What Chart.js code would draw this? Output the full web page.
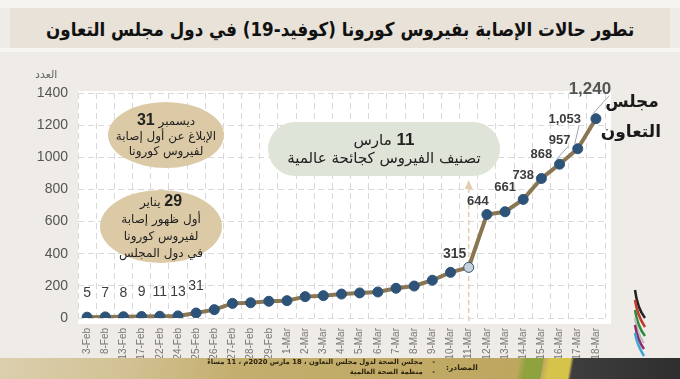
<!DOCTYPE html>
<html lang="ar">
<head>
<meta charset="utf-8">
<script src="https://cdn.jsdelivr.net/npm/chart.js@4.4.1/dist/chart.umd.min.js"></script>
<style>
  html,body{margin:0;padding:0;}
  body{width:680px;height:379px;overflow:hidden;background:#efebe6;position:relative;font-family:"DejaVu Sans",sans-serif;}
  #topstrip{position:absolute;left:0;top:0;width:680px;height:8px;background:#f6f4f1;}
  #titlebar{position:absolute;left:10px;top:8px;width:660px;height:40px;background:#e8e2d9;}
  #gap{position:absolute;left:0;top:48px;width:680px;height:4px;background:#f7f5f2;}
  #title{position:absolute;left:340px;top:18px;white-space:nowrap;font-weight:bold;font-size:19px;line-height:22px;color:#111;direction:rtl;transform-origin:50% 50%;}
  #wrap{position:absolute;left:0;top:0;width:680px;height:379px;}
  .ell{position:absolute;border-radius:50%;background:#dccaa6;display:flex;flex-direction:column;align-items:center;justify-content:center;direction:rtl;color:#222;text-align:center;}
  .ell b{font-family:"Liberation Sans",sans-serif;font-size:16px;}
  #e1{left:108px;top:102px;width:116px;height:66px;font-size:12px;line-height:15px;}
  #e2{left:100px;top:190px;width:122px;height:73px;font-size:12px;line-height:17px;}
  #gbox{position:absolute;left:268px;top:122px;width:232px;height:54px;border-radius:27px;background:#dfe4d8;direction:rtl;text-align:center;color:#222;font-size:15px;line-height:18px;display:flex;flex-direction:column;align-items:center;justify-content:center;}
  #gbox b{font-family:"Liberation Sans",sans-serif;font-size:17px;}
  #gcc{position:absolute;left:603px;top:86px;width:58px;text-align:center;direction:rtl;font-weight:bold;font-size:17px;line-height:30px;color:#1a1a1a;}
  #ytitle{position:absolute;left:35px;top:68px;font-size:11px;color:#666;direction:rtl;}
  #band{position:absolute;left:0;top:358px;width:680px;height:21px;
    background:linear-gradient(100deg,#dccfae 0%,#d2c295 18%,#c4ae6e 35%,#bfa862 70%,#bda65e 76%,#8ea33e 77%,#8ea33e 79.5%,#bfa862 79.6%,#d6c349 80.5%,#d6c349 83.5%,#3e3e3e 84%,#2e2e2e 100%);}
  #src{position:absolute;left:150px;top:358px;width:285px;direction:rtl;font-size:6.8px;line-height:9.5px;font-weight:bold;color:#2b2410;text-align:right;white-space:nowrap;}
  #srch{position:absolute;left:446px;top:363px;direction:rtl;font-size:7.5px;font-weight:bold;color:#2b2410;}
  #logo{position:absolute;left:625px;top:287px;}
</style>
</head>
<body>
<div id="topstrip"></div>
<div id="titlebar"></div>
<div id="gap"></div>
<div id="title">تطور حالات الإصابة بفيروس كورونا (كوفيد-19) في دول مجلس التعاون</div>
<div id="band"></div>
<div id="wrap"><canvas id="c" width="680" height="379"></canvas></div>
<div id="ytitle">العدد</div>
<div class="ell" id="e1"><div>ديسمبر <b>31</b></div><div>الإبلاغ عن أول إصابة</div><div>لفيروس كورونا</div></div>
<div class="ell" id="e2"><div><b>29</b> يناير</div><div>أول ظهور إصابة</div><div>لفيروس كورونا</div><div>في دول المجلس</div></div>
<div id="gbox"><div><b>11</b> مارس</div><div>تصنيف الفيروس كجائحة عالمية</div></div>
<div id="gcc">مجلس<br>التعاون</div>
<div id="src"><div>-&nbsp;&nbsp;&nbsp;&nbsp;مجلس الصحة لدول مجلس التعاون ، 18 مارس 2020م ، 11 مساءً</div><div>-&nbsp;&nbsp;&nbsp;&nbsp;منظمة الصحة العالمية</div></div>
<div id="srch">المصادر:</div>
<svg id="logo" width="40" height="75" viewBox="0 0 40 75">
  <path d="M10 3 C12 18 16 26 20 31" stroke="#222" stroke-width="2.5" fill="none"/>
  <path d="M10 13 C12 26 16 34 20 40" stroke="#c0392b" stroke-width="2.5" fill="none"/>
  <path d="M10 23 C12 36 16 44 20 49" stroke="#2e8b3e" stroke-width="2.5" fill="none"/>
  <path d="M10 31 C12 44 16 52 19 56" stroke="#bbb" stroke-width="2" fill="none"/>
  <path d="M10 38 C12 50 16 58 19 62" stroke="#8e2a6e" stroke-width="2.5" fill="none"/>
  <path d="M10 46 C12 58 16 64 19 69" stroke="#3aa7d6" stroke-width="2.5" fill="none"/>
</svg>
<script>
const categories = ["3-Feb","8-Feb","13-Feb","17-Feb","22-Feb","24-Feb","25-Feb","26-Feb","27-Feb","28-Feb","29-Feb","1-Mar","2-Mar","3-Mar","4-Mar","5-Mar","6-Mar","7-Mar","8-Mar","9-Mar","10-Mar","11-Mar","12-Mar","13-Mar","14-Mar","15-Mar","16-Mar","17-Mar","18-Mar"];
const cases = [5,7,8,9,11,13,31,52,91,95,104,108,133,139,149,156,162,185,199,235,284,315,644,661,738,868,957,1053,1240];
const shownLabels = ["5","7","8","9","11","13","31",null,null,null,null,null,null,null,null,null,null,null,null,null,null,"315","644","661","738","868","957","1,053","1,240"];
const yTicks = [0,200,400,600,800,1000,1200,1400];
const markerCategory = "11-Mar";

// fit the title to the width of the reference title
(function(){
  const t = document.getElementById('title');
  const w = t.offsetWidth;
  const s = Math.min(1, 588 / w);
  t.style.left = (340 - w/2) + 'px';
  t.style.transform = 'scaleX(' + s + ')';
})();

// label styling (offsets in px relative to the point)
const labelStyle = {
  early: {dx:0, dy:-24, size:14},
  21: {dx:-14, dy:-13, size:14},
  22: {dx:-9, dy:-13, size:13},
  26: {dx:0, dy:-24, size:13, leader:true},
  27: {dx:-13, dy:-29, size:13, leader:true},
  28: {dx:-6, dy:-29, size:17, leader:true}
};

const bgPlugin = {
  id:'bg',
  beforeDraw(chart){
    const {ctx, chartArea:a} = chart;
    ctx.save();
    ctx.fillStyle = '#ffffff';
    ctx.fillRect(a.left, a.top-2, a.right-a.left+6, a.bottom-a.top+8);
    ctx.restore();
  }
};

const markerPlugin = {
  id:'marker',
  beforeDatasetsDraw(chart){
    const {ctx, chartArea:a, scales:{x}} = chart;
    const px = x.getPixelForValue(categories.indexOf(markerCategory));
    ctx.save();
    ctx.strokeStyle = '#e2cfae';
    ctx.lineWidth = 1.5;
    ctx.setLineDash([5,3]);
    ctx.beginPath();
    ctx.moveTo(px, 188);
    ctx.lineTo(px, a.bottom+6);
    ctx.stroke();
    ctx.setLineDash([]);
    ctx.fillStyle = '#e2cfae';
    ctx.beginPath();
    ctx.moveTo(px, 180);
    ctx.lineTo(px-4, 189);
    ctx.lineTo(px+4, 189);
    ctx.closePath();
    ctx.fill();
    ctx.restore();
  }
};

const labelPlugin = {
  id:'labels',
  afterDatasetsDraw(chart){
    const {ctx} = chart;
    const meta = chart.getDatasetMeta(0);
    ctx.save();
    ctx.textAlign = 'center';
    ctx.textBaseline = 'middle';
    meta.data.forEach((pt, i) => {
      const t = shownLabels[i];
      if (!t) return;
      const s = labelStyle[i] || (i < 7 ? labelStyle.early : {dx:0, dy:-24, size:13});
      const lx = pt.x + s.dx, ly = pt.y + s.dy;
      ctx.font = (i < 7 ? '' : 'bold ') + s.size + 'px "Liberation Sans", sans-serif';
      if (s.leader) {
        ctx.strokeStyle = '#9aa3ad';
        ctx.lineWidth = 1;
        ctx.beginPath();
        ctx.moveTo(lx + ctx.measureText(t).width/2 - 2, ly + 6);
        ctx.lineTo(pt.x - 3, pt.y - 5);
        ctx.stroke();
      }
      ctx.fillStyle = i === 28 ? '#555' : '#3d3d3d';
      ctx.fillText(t, lx, ly + (i===6 ? -3 : 0));
    });
    ctx.restore();
  }
};

new Chart(document.getElementById('c'), {
  type:'line',
  data:{
    labels: categories,
    datasets:[{
      data: cases,
      borderColor:'#8a7652',
      borderWidth:4,
      tension:0,
      pointRadius:5,
      pointHoverRadius:5,
      pointBorderWidth:1,
      pointBorderColor:'#2d5478',
      pointBackgroundColor:(c)=> c.dataIndex===21 ? '#c9d2db' : '#2d5478'
    }]
  },
  options:{
    responsive:false,
    animation:false,
    events:[],
    layout:{padding:{left:0, top:93, right:75, bottom:21}},
    plugins:{legend:{display:false}, tooltip:{enabled:false}},
    scales:{
      x:{
        offset:true,
        grid:{color:'#d9d9d9', lineWidth:1, drawTicks:false, offset:true},
        border:{display:false, dash:[6,4]},
        ticks:{autoSkip:false, minRotation:90, maxRotation:90, padding:10, color:'#777', font:{size:10, family:'"Liberation Sans", sans-serif'}},
        afterFit(s){ s.height = 40; }
      },
      y:{
        min:0, max:1400,
        afterBuildTicks(s){ s.ticks = yTicks.map(v=>({value:v})); },
        grid:{color:'#d9d9d9', lineWidth:1, drawTicks:false},
        border:{display:false, dash:[6,4]},
        ticks:{padding:10, color:'#555', font:{size:14, family:'"Liberation Sans", sans-serif'}, callback:(v)=>String(v)},
        afterFit(s){ s.width = 78; }
      }
    }
  },
  plugins:[bgPlugin, markerPlugin, labelPlugin]
});
</script>
</body>
</html>
